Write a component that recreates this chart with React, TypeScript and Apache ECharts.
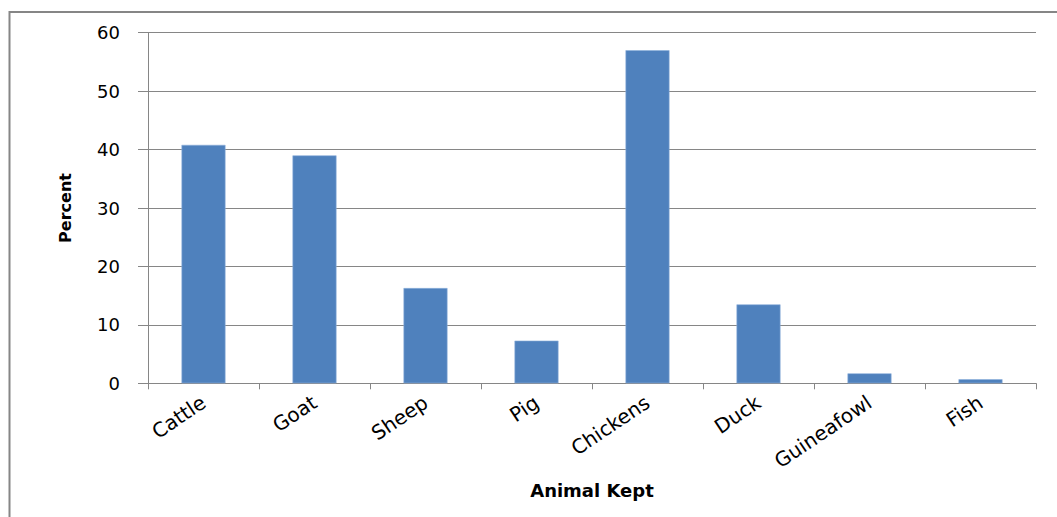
import React, { useEffect, useRef } from "react";
import * as echarts from "echarts";

const categories = ["Cattle", "Goat", "Sheep", "Pig", "Chickens", "Duck", "Guineafowl", "Fish"];
const percentValues = [40.8, 39.0, 16.3, 7.3, 57.0, 13.5, 1.7, 0.7];
const yTicks = { min: 0, max: 60, interval: 10 };

export default function App() {
  const ref = useRef<HTMLDivElement>(null);
  useEffect(() => {
    if (!ref.current) return;
    const chart = echarts.init(ref.current, null, { renderer: "svg" });
    chart.setOption({
      animation: false,
      backgroundColor: "#ffffff",
      graphic: [
        { type: "line", shape: { x1: 9, y1: 12, x2: 1057, y2: 12 }, style: { stroke: "#868686", lineWidth: 2 } },
        { type: "line", shape: { x1: 9.5, y1: 11, x2: 9.5, y2: 517 }, style: { stroke: "#868686", lineWidth: 2 } },
      ],
      grid: { left: 148, right: 21, top: 32.7, bottom: 133.7, containLabel: false },
      xAxis: {
        type: "category",
        data: categories,
        name: "Animal Kept",
        nameLocation: "middle",
        nameGap: 98,
        nameTextStyle: { fontFamily: "DejaVu Sans", fontWeight: "bold", fontSize: 18, color: "#000" },
        axisLine: { lineStyle: { color: "#868686", width: 1 } },
        axisTick: { show: true, alignWithLabel: false, length: 6, lineStyle: { color: "#868686" } },
        axisLabel: {
          rotate: 34,
          margin: 17,
          fontFamily: "DejaVu Sans",
          fontSize: 20,
          color: "#000",
          interval: 0,
        },
      },
      yAxis: {
        type: "value",
        min: yTicks.min,
        max: yTicks.max,
        interval: yTicks.interval,
        name: "Percent",
        nameLocation: "middle",
        nameGap: 75,
        nameRotate: 90,
        nameTextStyle: { fontFamily: "DejaVu Sans", fontWeight: "bold", fontSize: 16, color: "#000" },
        axisLine: { show: true, lineStyle: { color: "#868686", width: 1 } },
        axisTick: { show: true, length: 10, lineStyle: { color: "#868686" } },
        axisLabel: { fontFamily: "DejaVu Sans", fontSize: 18, color: "#000", margin: 28 },
        splitLine: { show: true, lineStyle: { color: "#868686", width: 1 } },
      },
      series: [
        {
          type: "bar",
          data: percentValues,
          barWidth: 44,
          itemStyle: { color: "#4F81BD", borderColor: "#8db0db", borderWidth: 0.6 },
        },
      ],
    });
    return () => chart.dispose();
  }, []);
  return (
    <div
      ref={ref}
      style={{ position: "fixed", left: 0, top: 0, width: 1057, height: 517 }}
    />
  );
}
